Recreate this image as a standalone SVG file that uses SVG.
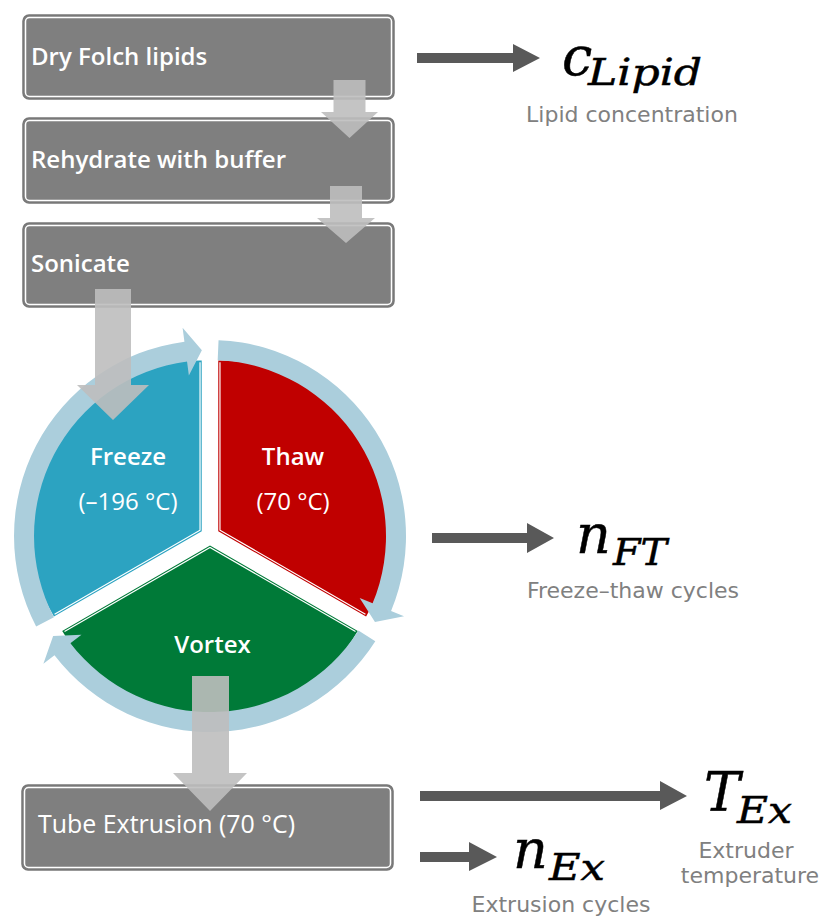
<svg xmlns="http://www.w3.org/2000/svg" width="824" height="918" viewBox="0 0 824 918">
<style>
.box{fill:#7f7f7f;stroke:#777;stroke-width:1.5}
.boxin{fill:none;stroke:#fff;stroke-width:1.5}
.bt{font-family:"Open Sans","DejaVu Sans",sans-serif;font-size:24px;fill:#fff}
.sb{font-weight:600}
.ring{fill:#abcedc}
.blk{fill:#bebebe;fill-opacity:0.9}
.dark{fill:#595959}
.m{font-family:"DejaVu Serif",serif;font-style:italic;fill:#000;stroke:#000;stroke-width:0.5}
.mm{font-size:54px}
.ms{font-size:38px}
.gl{font-family:"DejaVu Sans",sans-serif;font-size:22px;fill:#808080;text-anchor:middle}
.ct{font-family:"Open Sans","DejaVu Sans",sans-serif;font-size:24px;fill:#fff;text-anchor:middle}
.edge{fill:none;stroke:#fff;stroke-width:1.2}
</style>

<g id="box-dry">
<rect class="box" x="23" y="15" width="371" height="84" rx="6"/>
<rect class="boxin" x="25.5" y="17.5" width="366" height="79" rx="4"/>
<text class="bt sb" x="31" y="65">Dry Folch lipids</text>
</g>
<g id="box-rehydrate">
<rect class="box" x="23" y="118" width="371" height="85" rx="6"/>
<rect class="boxin" x="25.5" y="120.5" width="366" height="80" rx="4"/>
<text class="bt sb" x="31" y="168">Rehydrate with buffer</text>
</g>
<g id="box-sonicate">
<rect class="box" x="23" y="223" width="371" height="84" rx="6"/>
<rect class="boxin" x="25.5" y="225.5" width="366" height="79" rx="4"/>
<text class="bt sb" x="31" y="272">Sonicate</text>
</g>

<g id="freeze">
<path d="M200.04,530.25 L200.04,362.25 A168,168 0 0 0 54.55,614.25 Z" fill="#2ca3c1" stroke="#2ca3c1" stroke-width="3.4"/>
<path class="edge" d="M200.04,362.25 L200.04,530.25 L54.55,614.25"/>
<text class="ct sb" x="128" y="465">Freeze</text>
<text class="ct" x="128" y="510">(–196 °C)</text>
</g>
<g id="thaw">
<path d="M219.96,530.25 L219.96,362.25 A168,168 0 0 1 365.45,614.25 Z" fill="#c00000" stroke="#c00000" stroke-width="3.4"/>
<path class="edge" d="M219.96,362.25 L219.96,530.25 L365.45,614.25"/>
<text class="ct sb" x="293" y="465">Thaw</text>
<text class="ct" x="293" y="510">(70 °C)</text>
</g>
<g id="vortex">
<path d="M210,547.5 L355.49,631.5 A168,168 0 0 1 64.51,631.5 Z" fill="#007a38" stroke="#007a38" stroke-width="3.4"/>
<path class="edge" d="M355.49,631.5 L210,547.5 L64.51,631.5"/>
<text class="ct sb" x="212.5" y="653">Vortex</text>
</g>

<g id="box-extrusion">
<rect class="box" x="22" y="785" width="371" height="85" rx="6"/>
<rect class="boxin" x="24.5" y="787.5" width="366" height="80" rx="4"/>
<text class="bt" x="38" y="833" style="font-size:25px" textLength="257" lengthAdjust="spacingAndGlyphs">Tube Extrusion (70 °C)</text>
</g>

<g id="connectors">
<path class="ring" d="M53.89,617.26 L36.15,626.49 A196,196 0 0 1 184.42,341.69 L182.59,327.81 L201.89,350.18 L188.86,375.39 L187.03,361.51 A176,176 0 0 0 53.89,617.26 Z"/>
<path class="ring" d="M217.68,360.17 L218.55,340.19 A196,196 0 0 1 391.08,611.01 L404.02,616.37 L374.98,621.88 L359.67,598 L372.61,603.35 A176,176 0 0 0 217.68,360.17 Z"/>
<path class="ring" d="M358.44,630.56 L375.31,641.31 A196,196 0 0 1 54.49,655.32 L43.39,663.85 L53.13,635.94 L81.47,634.63 L70.36,643.15 A176,176 0 0 0 358.44,630.56 Z"/>
<path class="blk" d="M333.5,80 H365.5 V112 H378 L349.5,138 L321,112 H333.5 Z"/>
<path class="blk" d="M330,186 H362 V218 H375 L346,243 L317,218 H330 Z"/>
<path class="blk" d="M95,289 H131 V385 H149 L113,420 L77,385 H95 Z"/>
<path class="blk" d="M192,676 H229 V773 H247 L210,811 L173,773 H192 Z"/>
<path class="dark" d="M417,53 H513 V44 L540,58 L513,72 V63 H417 Z"/>
<path class="dark" d="M432,533 H527 V523 L554,538 L527,553 V543 H432 Z"/>
<path class="dark" d="M420,791 H660 V781 L687,796 L660,810 V801 H420 Z"/>
<path class="dark" d="M420,852 H469 V842 L497,857 L469,871 V862 H420 Z"/>
</g>

<g id="var-clipid">
<text class="m mm" x="562" y="75">c</text>
<text class="m ms" x="588" y="85" textLength="114" lengthAdjust="spacingAndGlyphs">Lipid</text>
<text class="gl" x="632" y="122">Lipid concentration</text>
</g>
<g id="var-nft">
<text class="m mm" x="576" y="553">n</text>
<text class="m ms" x="613" y="565" textLength="54" lengthAdjust="spacingAndGlyphs">FT</text>
<text class="gl" x="633" y="598">Freeze–thaw cycles</text>
</g>
<g id="var-tex">
<text class="m mm" x="704" y="811">T</text>
<text class="m ms" x="737" y="823" textLength="55" lengthAdjust="spacingAndGlyphs">Ex</text>
<text class="gl" x="746" y="858">Extruder</text>
<text class="gl" x="750" y="883">temperature</text>
</g>
<g id="var-nex">
<text class="m mm" x="513" y="868">n</text>
<text class="m ms" x="549" y="880" textLength="56" lengthAdjust="spacingAndGlyphs">Ex</text>
<text class="gl" x="561" y="912">Extrusion cycles</text>
</g>
</svg>
